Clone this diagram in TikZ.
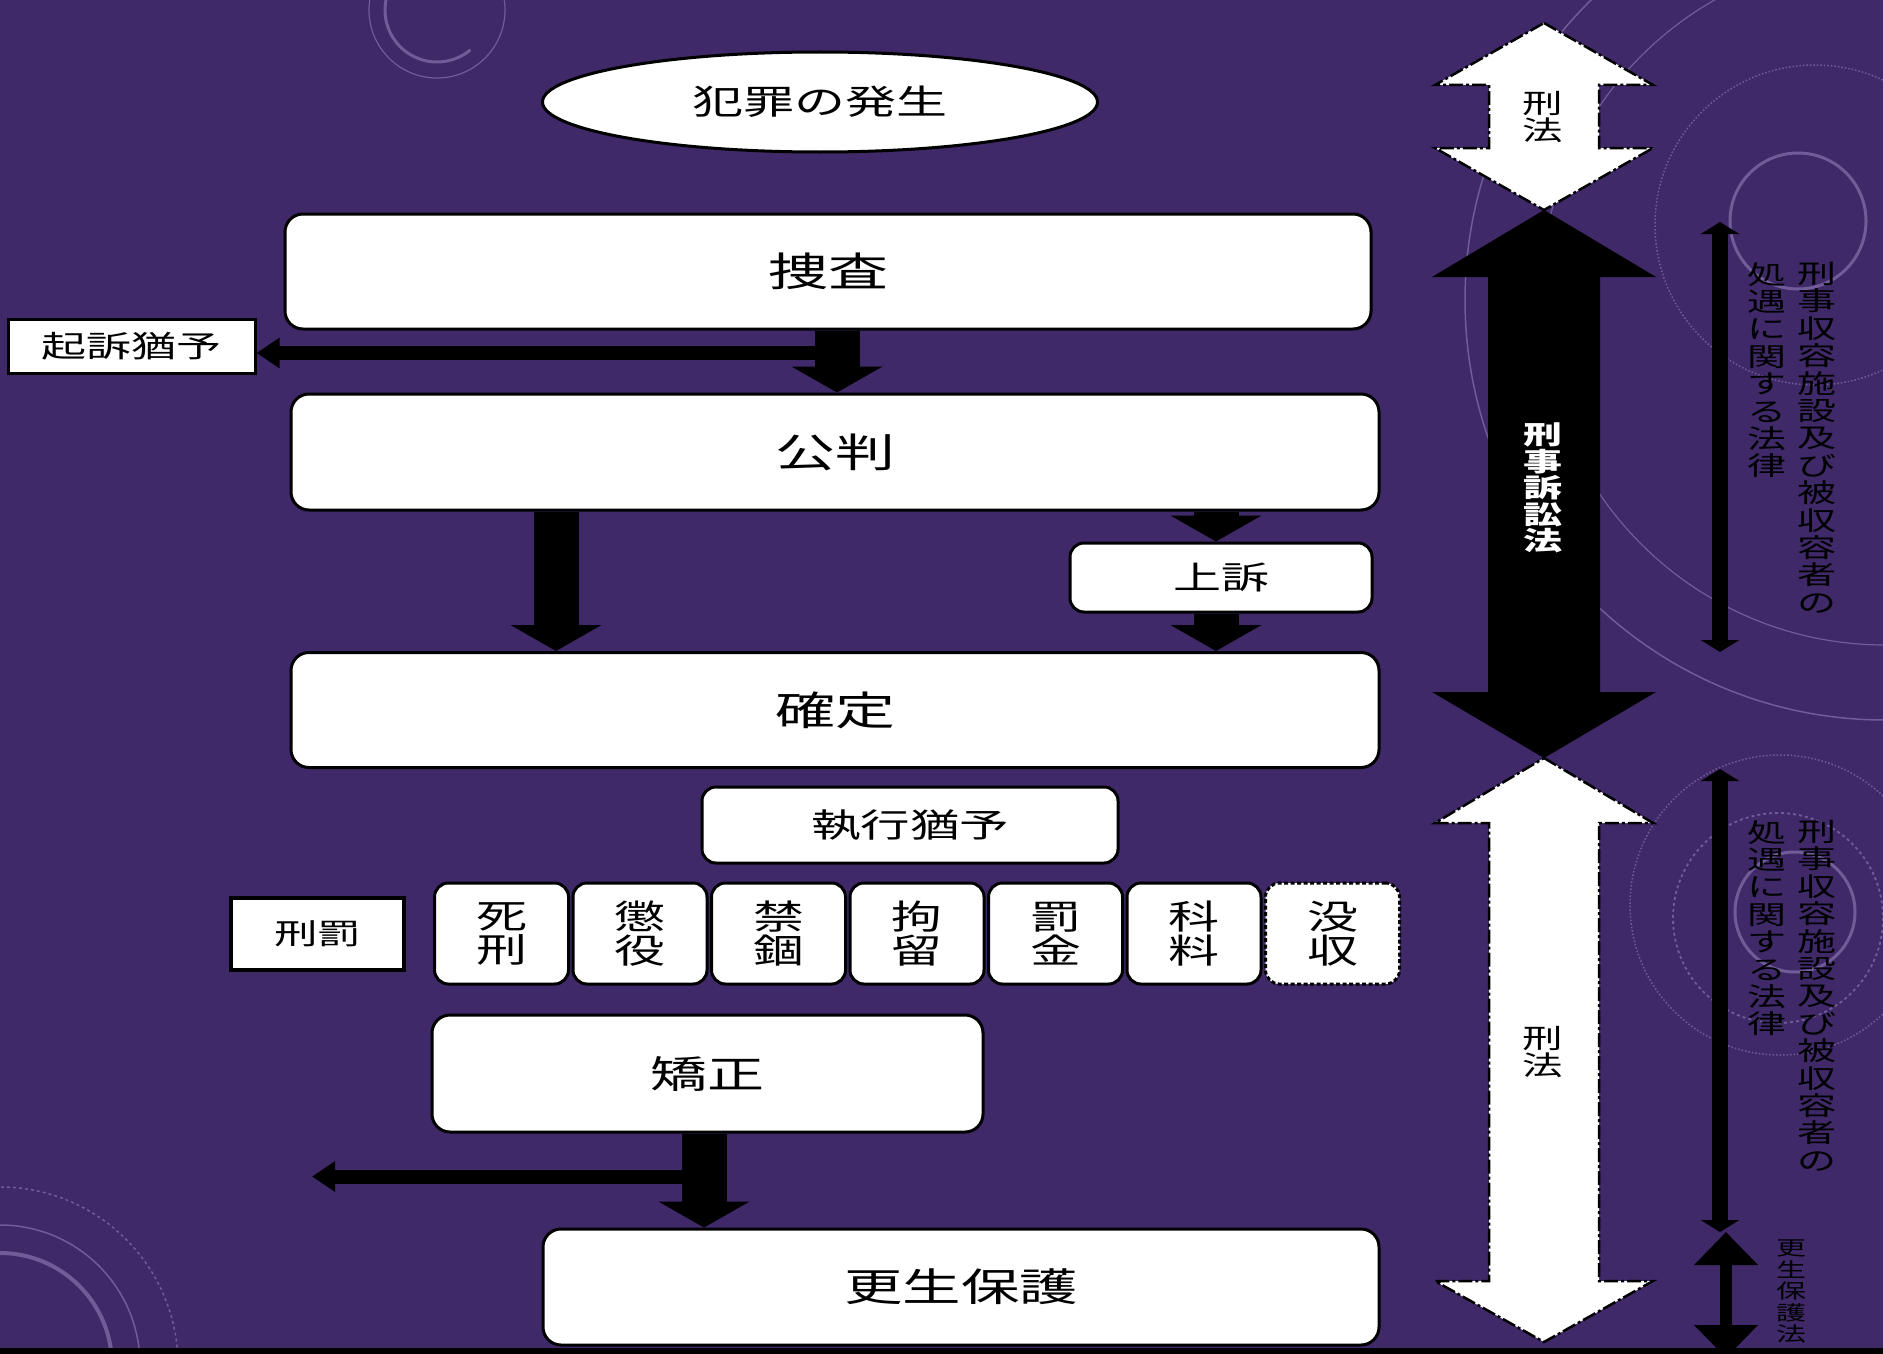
\documentclass[tikz,border=0pt]{standalone}
\usepackage{fontspec}
\usetikzlibrary{arrows.meta,shapes.geometric}
\newfontfamily\jp[FakeStretch=1.5]{Noto Sans CJK JP}
\definecolor{bg}{RGB}{63,41,104}
\definecolor{decoc}{RGB}{190,170,230}
\tikzset{
  flowbox/.style={draw=black, fill=white, line width=3pt, rounded corners=18pt, inner sep=0pt,
    font=\jp\fontsize{40}{44}\selectfont},
  sqbox/.style={draw=black, fill=white, line width=3pt, inner sep=0pt},
  penbox/.style={draw=black, fill=white, line width=3pt, rounded corners=14pt,
    minimum width=134pt, minimum height=101pt, inner sep=0pt, align=center,
    font=\jp\fontsize{34}{34}\selectfont},
  bigarrow/.style={line width=45pt, -{Triangle[length=26pt,width=90pt]}},
  sidearrow/.style={line width=14pt, -{Triangle[length=23pt,width=29pt]}},
  thinarrow/.style={line width=16pt, {Triangle[length=12pt,width=38pt]}-{Triangle[length=12pt,width=38pt]}},
  thickarrow/.style={line width=12pt, {Triangle[length=33pt,width=62pt]}-{Triangle[length=33pt,width=62pt]}},
  vtext/.style={align=center, inner sep=0pt, anchor=north, font=\jp\fontsize{26}{27.4}\selectfont},
  whiteblock/.style={fill=white, draw=black, line width=2.5pt, dash pattern=on 14pt off 3pt on 3pt off 3pt},
  deco/.style={draw=decoc, opacity=0.4},
}
\begin{document}
\begin{tikzpicture}[x=1pt,y=-1pt]
\useasboundingbox (0,0) rectangle (1883,1354);
\fill[bg] (0,0) rectangle (1883,1354);

% background decorations
\draw[deco, line width=1.2pt] (437,10) circle (68);
\draw[deco, line width=3pt] (437,10) ++(200:52) arc[start angle=200, end angle=50, radius=52];
\draw[deco, line width=1.5pt] (1885,300) circle (420);
\draw[deco, line width=1.2pt] (1885,300) circle (345);
\draw[deco, line width=1.5pt, dotted] (1815,225) circle (160);
\draw[deco, line width=3pt] (1798,221) circle (68);
\draw[deco, line width=1.5pt, dotted] (1780,905) circle (150);
\draw[deco, line width=1.8pt, dashed] (1778,918) circle (105);
\draw[deco, line width=3pt] (1795,912) circle (60);
\draw[deco, line width=4pt] (0,1365) circle (112);
\draw[deco, line width=1.5pt] (0,1365) circle (140);
\draw[deco, line width=1.5pt, dashed] (0,1365) circle (178);

% main flow
\node[draw=black, fill=white, line width=3pt, ellipse, minimum width=555pt, minimum height=100pt,
  inner sep=0pt, font=\jp\fontsize{34}{38}\selectfont] (crime) at (820,102) {犯罪の発生};
\node[flowbox, minimum width=1086pt, minimum height=115pt] (sousa) at (828,271.5) {捜査};
\node[sqbox, minimum width=247pt, minimum height=54pt, font=\jp\fontsize{30}{34}\selectfont] (kiso) at (131.5,346) {起訴猶予};
\node[flowbox, minimum width=1088pt, minimum height=116pt] (kohan) at (835,452) {公判};
\node[flowbox, rounded corners=14pt, minimum width=302pt, minimum height=69pt,
  font=\jp\fontsize{32}{36}\selectfont] (joso) at (1221,577.5) {上訴};
\node[flowbox, minimum width=1088pt, minimum height=115pt] (kakutei) at (835,710) {確定};
\node[flowbox, rounded corners=14pt, minimum width=416pt, minimum height=76pt,
  font=\jp\fontsize{33}{36}\selectfont] (shikko) at (910,825) {執行猶予};
\node[sqbox, line width=4pt, minimum width=173pt, minimum height=72pt,
  font=\jp\fontsize{29}{32}\selectfont] (keibatsu) at (317.5,934) {刑罰};
\node[penbox] (p1) at (501.5,933.5) {死\\刑};
\node[penbox] (p2) at (640,933.5) {懲\\役};
\node[penbox] (p3) at (778.5,933.5) {禁\\錮};
\node[penbox] (p4) at (917,933.5) {拘\\留};
\node[penbox] (p5) at (1055.5,933.5) {罰\\金};
\node[penbox] (p6) at (1194,933.5) {科\\料};
\node[penbox, dash pattern=on 4pt off 2.5pt] (p7) at (1332.5,933.5) {没\\収};
\node[flowbox, minimum width=551pt, minimum height=117pt, font=\jp\fontsize{38}{42}\selectfont] (kyosei) at (707.5,1073.5) {矯正};
\node[flowbox, minimum width=836pt, minimum height=116pt, font=\jp\fontsize{39}{42}\selectfont] (kosei) at (961,1287) {更生保護};

% connectors
\coordinate (xa) at (837,0);
\coordinate (xb) at (556,0);
\coordinate (xc) at (1216,0);
\coordinate (xd) at (704,0);
\coordinate (ka) at (858,353);
\coordinate (kb) at (727,1176.5);
\coordinate (kc) at (312,1176.5);
\draw[bigarrow] (sousa.south -| xa) -- (kohan.north -| xa);
\draw[sidearrow] (ka) -- (ka -| kiso.east);
\draw[bigarrow] (kohan.south -| xb) -- (kakutei.north -| xb);
\draw[bigarrow] (kohan.south -| xc) -- (joso.north -| xc);
\draw[bigarrow] (joso.south -| xc) -- (kakutei.north -| xc);
\draw[bigarrow] (kyosei.south -| xd) -- (kosei.north -| xd);
\draw[sidearrow] (kb) -- (kc);

% right side: law block arrows
\filldraw[whiteblock] (1544,23) -- (1653,85) -- (1599,85) -- (1599,148) -- (1653,148) -- (1544,210)
  -- (1435,148) -- (1489,148) -- (1489,85) -- (1435,85) -- cycle;
\node[inner sep=0pt, align=center, font=\jp\fontsize{27}{27}\selectfont] (keiho1) at (1543,117) {刑\\法};
\fill[black] (1544,210) -- (1656,277) -- (1600,277) -- (1600,692) -- (1656,692) -- (1544,758)
  -- (1432,692) -- (1488,692) -- (1488,277) -- (1432,277) -- cycle;
\node[inner sep=0pt, align=center, text=white, font=\jp\bfseries\fontsize{26}{26.4}\selectfont] (keiso) at (1543,488) {刑\\事\\訴\\訟\\法};
\filldraw[whiteblock] (1544,758) -- (1653,823) -- (1599,823) -- (1599,1281) -- (1653,1281) -- (1544,1342)
  -- (1435,1281) -- (1489,1281) -- (1489,823) -- (1435,823) -- cycle;
\node[inner sep=0pt, align=center, font=\jp\fontsize{27}{27}\selectfont] (keiho2) at (1543,1052) {刑\\法};

% thin double arrows with law names
\coordinate (t1a) at (1720,222);
\coordinate (t1b) at (1720,652);
\coordinate (t2a) at (1720,769);
\coordinate (t2b) at (1720,1232);
\coordinate (t3a) at (1726,1232);
\coordinate (t3b) at (1726,1358);
\draw[thinarrow] (t1a) -- (t1b);
\draw[thinarrow] (t2a) -- (t2b);
\draw[thickarrow] (t3a) -- (t3b);
\node[vtext] (law1r) at (1817,262) {刑\\事\\収\\容\\施\\設\\及\\び\\被\\収\\容\\者\\の};
\node[vtext] (law1l) at (1767,262) {処\\遇\\に\\関\\す\\る\\法\\律};
\node[vtext] (law2r) at (1817,820) {刑\\事\\収\\容\\施\\設\\及\\び\\被\\収\\容\\者\\の};
\node[vtext] (law2l) at (1767,820) {処\\遇\\に\\関\\す\\る\\法\\律};
\node[vtext, font=\jp\fontsize{20}{21.5}\selectfont] (law3) at (1791,1240) {更\\生\\保\\護\\法};

% bottom strip
\fill[black] (0,1348) rectangle (1883,1354);
\end{tikzpicture}
\end{document}
